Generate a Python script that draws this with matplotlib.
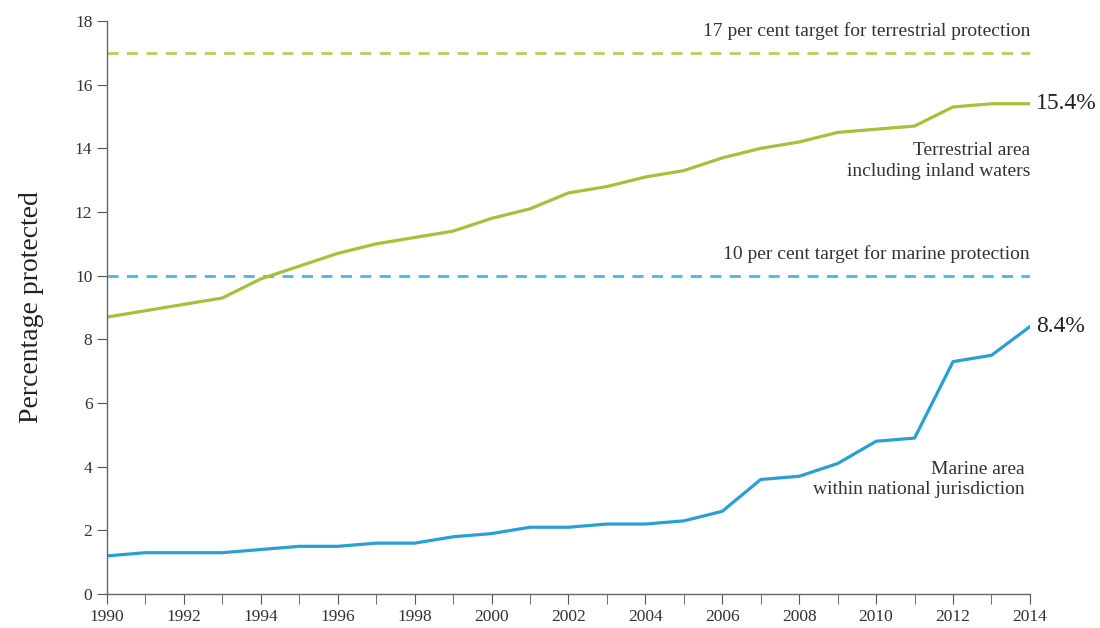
import numpy as np
import matplotlib.pyplot as plt

years = list(range(1990, 2015))

# Terrestrial area including inland waters
terrestrial = [8.7, 8.9, 9.1, 9.3, 9.9, 10.3, 10.7, 11.0, 11.2, 11.4, 11.8, 12.1, 12.6,
               12.8, 13.1, 13.3, 13.7, 14.0, 14.2, 14.5, 14.6, 14.7, 15.3, 15.4, 15.4]
# Marine area within national jurisdiction
marine = [1.2, 1.3, 1.3, 1.3, 1.4, 1.5, 1.5, 1.6, 1.6, 1.8, 1.9, 2.1, 2.1,
          2.2, 2.2, 2.3, 2.6, 3.6, 3.7, 4.1, 4.8, 4.9, 7.3, 7.5, 8.4]

terrTarget = 17
marTarget = 10

green = '#a3c139'
blue = '#2a9fd3'

plt.rcParams['font.family'] = ['Liberation Serif', 'DejaVu Serif']

fig = plt.figure(figsize=(11, 6.28), dpi=100)
ax = fig.add_axes([0.0973, 0.054, 0.839, 0.9126])

ax.axhline(terrTarget, color='#b4d05c', ls=(0, (4, 3)), lw=2)
ax.axhline(marTarget, color='#4fb6e3', ls=(0, (4, 3)), lw=2)
ax.plot(years, terrestrial, color=green, lw=2.3, solid_joinstyle='round')
ax.plot(years, marine, color=blue, lw=2.3, solid_joinstyle='round')

ax.text(2014, terrTarget + 0.4, "17 per cent target for terrestrial protection",
        ha='right', va='bottom', fontsize=14, color='#333333')
ax.text(2014, marTarget + 0.4, "10 per cent target for marine protection",
        ha='right', va='bottom', fontsize=14, color='#333333')
ax.text(2014, 13.6, "Terrestrial area\nincluding inland waters",
        ha='right', va='center', fontsize=14, color='#333333', linespacing=1.25)
ax.text(2013.85, 3.6, "Marine area\nwithin national jurisdiction",
        ha='right', va='center', fontsize=14, color='#333333', linespacing=1.25)
ax.text(2014.15, terrestrial[-1], "%.1f%%" % terrestrial[-1],
        ha='left', va='center', fontsize=17, color='#222222')
ax.text(2014.15, marine[-1], "%.1f%%" % marine[-1],
        ha='left', va='center', fontsize=17, color='#222222')

ax.set_xlim(1990, 2014)
ax.set_ylim(0, 18)
ax.set_xticks(range(1990, 2015, 2))
ax.set_xticks(years, minor=True)
ax.set_yticks(range(0, 19, 2))
ax.tick_params(axis='both', which='both', length=7, color='#555555',
               labelsize=12.5, labelcolor='#333333')
ax.tick_params(axis='x', which='minor', length=7)

for s in ['top', 'right']:
    ax.spines[s].set_visible(False)
for s in ['left', 'bottom']:
    ax.spines[s].set_color('#666666')
    ax.spines[s].set_linewidth(1)

ax.set_ylabel("Percentage protected", fontsize=20, color='#222222', labelpad=22)

fig.savefig("out.png", dpi=100)
